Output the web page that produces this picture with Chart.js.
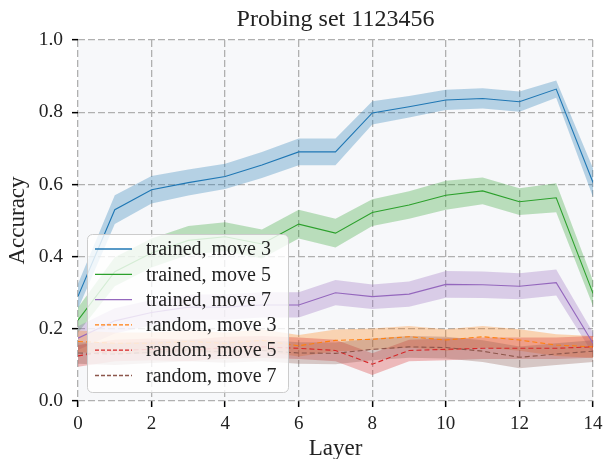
<!DOCTYPE html>
<html lang="en">
<head>
  <meta charset="UTF-8">
  <title>Probing set 1123456</title>
  <script src="https://cdn.jsdelivr.net/npm/chart.js"></script>
  <style>
    body {
      margin: 0;
      padding: 0;
      background: white;
    }
    #wrap {
      width: 605px;
      height: 459px;
    }
  </style>
</head>
<body>
  <div id="wrap"><canvas id="grafico"></canvas></div>

  <script>
    // dados
    const layers = [0, 1, 2, 3, 4, 5, 6, 7, 8, 9, 10, 11, 12, 13, 14];

    const trained3 = [0.29, 0.53, 0.585, 0.605, 0.622, 0.654, 0.69, 0.69, 0.798, 0.815, 0.834, 0.838, 0.829, 0.864, 0.605];
    const trained3Err = [0.035, 0.04, 0.038, 0.036, 0.035, 0.036, 0.037, 0.037, 0.032, 0.03, 0.028, 0.028, 0.028, 0.024, 0.04];

    const trained5 = [0.224, 0.358, 0.41, 0.445, 0.455, 0.435, 0.49, 0.465, 0.522, 0.543, 0.57, 0.582, 0.552, 0.563, 0.298];
    const trained5Err = [0.035, 0.04, 0.04, 0.04, 0.04, 0.04, 0.04, 0.04, 0.037, 0.038, 0.04, 0.037, 0.037, 0.04, 0.035];

    const trained7 = [0.174, 0.222, 0.245, 0.26, 0.26, 0.266, 0.266, 0.3, 0.289, 0.296, 0.323, 0.322, 0.318, 0.328, 0.16];
    const trained7Err = [0.033, 0.035, 0.035, 0.035, 0.035, 0.035, 0.035, 0.035, 0.034, 0.035, 0.037, 0.037, 0.036, 0.036, 0.03];

    const random3 = [0.165, 0.16, 0.16, 0.165, 0.16, 0.168, 0.153, 0.168, 0.171, 0.178, 0.169, 0.178, 0.169, 0.155, 0.15];
    const random3Err = [0.03, 0.03, 0.03, 0.03, 0.03, 0.03, 0.03, 0.03, 0.03, 0.03, 0.03, 0.03, 0.03, 0.03, 0.03];

    const random5 = [0.125, 0.14, 0.143, 0.14, 0.148, 0.15, 0.146, 0.14, 0.102, 0.14, 0.143, 0.146, 0.146, 0.146, 0.15];
    const random5Err = [0.03, 0.03, 0.03, 0.03, 0.03, 0.03, 0.03, 0.03, 0.03, 0.03, 0.03, 0.03, 0.03, 0.03, 0.03];

    const random7 = [0.133, 0.13, 0.135, 0.14, 0.136, 0.14, 0.133, 0.132, 0.143, 0.15, 0.148, 0.138, 0.121, 0.13, 0.138];
    const random7Err = [0.03, 0.03, 0.03, 0.03, 0.03, 0.03, 0.03, 0.03, 0.03, 0.03, 0.03, 0.03, 0.03, 0.03, 0.03];

    const seriesLabels = ['trained, move 3', 'trained, move 5', 'trained, move 7',
                          'random, move 3', 'random, move 5', 'random, move 7'];
    const seriesColors = ['#1f77b4', '#2ca02c', '#9467bd', '#ff7f0e', '#d62728', '#8c564b'];
    const bandColors = ['rgba(31,119,180,0.3)', 'rgba(44,160,44,0.3)', 'rgba(148,103,189,0.3)',
                        'rgba(255,127,14,0.3)', 'rgba(214,39,40,0.3)', 'rgba(140,86,75,0.3)'];

    const titulo = 'Probing set 1123456';

    const series = [
      { mean: trained3, err: trained3Err, dash: [] },
      { mean: trained5, err: trained5Err, dash: [] },
      { mean: trained7, err: trained7Err, dash: [] },
      { mean: random3, err: random3Err, dash: [5, 3] },
      { mean: random5, err: random5Err, dash: [5, 3] },
      { mean: random7, err: random7Err, dash: [5, 3] }
    ];

    const fonte = "'Liberation Serif', 'DejaVu Serif', serif";

    function pontos(valores) {
      return layers.map((l, i) => ({ x: l, y: valores[i] }));
    }

    // faixas primeiro (por baixo), linhas por cima
    let datasets = [];
    series.forEach((s, i) => {
      datasets.push({
        data: pontos(s.mean.map((m, j) => m - s.err[j])),
        borderWidth: 0,
        pointRadius: 0,
        fill: false,
        order: 100 - i
      });
      datasets.push({
        data: pontos(s.mean.map((m, j) => m + s.err[j])),
        borderWidth: 0,
        pointRadius: 0,
        backgroundColor: bandColors[i],
        fill: '-1',
        order: 100 - i
      });
    });
    series.forEach((s, i) => {
      datasets.push({
        label: seriesLabels[i],
        data: pontos(s.mean),
        borderColor: seriesColors[i],
        borderWidth: 1.1,
        borderDash: s.dash,
        pointRadius: 0,
        fill: false,
        order: 50 - i
      });
    });

    const fundoPlot = {
      id: 'fundoPlot',
      beforeDraw(chart) {
        const a = chart.chartArea;
        const ctx = chart.ctx;
        ctx.save();
        ctx.fillStyle = '#f7f8fa';
        ctx.fillRect(a.left, a.top, a.right - a.left, a.bottom - a.top);
        // título centrado sobre a área do gráfico
        ctx.font = '24px ' + fonte;
        ctx.fillStyle = '#222';
        ctx.textAlign = 'center';
        ctx.textBaseline = 'middle';
        ctx.fillText(titulo, (a.left + a.right) / 2, 20);
        ctx.restore();
      }
    };

    // legenda dentro da área do gráfico
    const legendaInterna = {
      id: 'legendaInterna',
      afterDraw(chart) {
        const ctx = chart.ctx;
        const x0 = 87, y0 = 234, w = 201, h = 158;
        ctx.save();
        ctx.beginPath();
        ctx.roundRect(x0 + 0.5, y0 + 0.5, w, h, 5);
        ctx.fillStyle = 'rgba(255,255,255,0.8)';
        ctx.fill();
        ctx.strokeStyle = '#cccccc';
        ctx.lineWidth = 1;
        ctx.stroke();
        ctx.font = '20px ' + fonte;
        ctx.textBaseline = 'middle';
        seriesLabels.forEach((lab, i) => {
          const y = 249 + i * 25.3;
          ctx.beginPath();
          ctx.setLineDash(series[i].dash.length ? [4, 2] : []);
          ctx.strokeStyle = seriesColors[i];
          ctx.lineWidth = 1.3;
          ctx.moveTo(95, y);
          ctx.lineTo(132, y);
          ctx.stroke();
          ctx.setLineDash([]);
          ctx.fillStyle = '#222';
          ctx.fillText(lab, 146, y + 1);
        });
        ctx.restore();
      }
    };

    const ctx = document.getElementById('grafico').getContext('2d');
    const chart = new Chart(ctx, {
      type: 'line',
      data: { datasets: datasets },
      options: {
        responsive: true,
        maintainAspectRatio: false,
        animation: false,
        events: [],
        layout: { padding: { left: 0, right: 12, top: 40, bottom: 0 } },
        plugins: {
          legend: { display: false },
          tooltip: { enabled: false },
          title: { display: false }
        },
        scales: {
          x: {
            type: 'linear',
            min: 0,
            max: 14,
            afterFit: scale => {
              scale.height = 58;
              scale.paddingLeft = 0;
              scale.paddingRight = 0;
            },
            ticks: {
              stepSize: 2,
              color: '#222',
              padding: 6,
              font: { family: fonte, size: 19 }
            },
            grid: {
              color: '#b0b0b0',
              lineWidth: 1.3,
              tickLength: 6,
              tickColor: '#000',
              tickWidth: 1.5
            },
            border: { display: false, dash: [7, 3] },
            title: {
              display: true,
              text: 'Layer',
              color: '#222',
              font: { family: fonte, size: 23, lineHeight: 0.85 },
              padding: { top: 0, bottom: 0 }
            }
          },
          y: {
            min: 0,
            max: 1,
            afterFit: scale => {
              scale.width = 78;
              scale.paddingTop = 0;
              scale.paddingBottom = 0;
            },
            ticks: {
              stepSize: 0.2,
              color: '#222',
              padding: 9,
              font: { family: fonte, size: 19.5 },
              callback: v => v.toFixed(1)
            },
            grid: {
              color: '#b0b0b0',
              lineWidth: 1.3,
              tickLength: 6,
              tickColor: '#000',
              tickWidth: 1.5
            },
            border: { display: false, dash: [7, 3] },
            title: {
              display: true,
              text: 'Accuracy',
              color: '#222',
              font: { family: fonte, size: 23, lineHeight: 1 },
              padding: { top: 6, bottom: 0 }
            }
          }
        }
      },
      plugins: [fundoPlot, legendaInterna]
    });
  </script>
</body>
</html>
